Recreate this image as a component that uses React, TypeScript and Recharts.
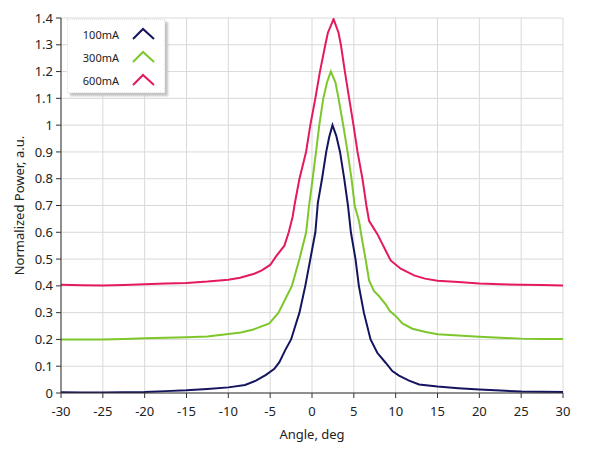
import React from 'react';
import { LineChart, Line, XAxis, YAxis, CartesianGrid } from 'recharts';

const angle100 = [-30, -27.5, -25, -22.5, -20, -17.5, -15, -12.5, -10, -8, -6.7, -5.5, -4.5, -3.9, -3.2, -2.5, -2, -1.5, -0.8, -0.2, 0.4, 0.7, 1.2, 1.7, 2.05, 2.45, 2.9, 3.35, 3.85, 4.3, 4.65, 5.2, 5.6, 6.2, 7.0, 7.8, 8.8, 9.6, 10.4, 11.6, 12.8, 15, 17.5, 20, 22.5, 25, 27.5, 30];
const power100 = [0.003, 0.002, 0.002, 0.003, 0.004, 0.007, 0.01, 0.015, 0.021, 0.03, 0.046, 0.068, 0.09, 0.115, 0.16, 0.2, 0.25, 0.3, 0.4, 0.5, 0.6, 0.71, 0.8, 0.9, 0.955, 1.0, 0.96, 0.9, 0.8, 0.7, 0.6, 0.5, 0.4, 0.3, 0.2, 0.15, 0.113, 0.082, 0.065, 0.046, 0.032, 0.024, 0.018, 0.013, 0.009, 0.006, 0.005, 0.004];

const angle300 = [-30, -27.5, -25, -22.5, -20, -17.5, -15, -12.5, -10, -8.5, -7, -5.1, -4, -3.2, -2.4, -1.5, -0.7, -0.35, 0.08, 0.48, 0.87, 1.35, 1.8, 2.25, 2.8, 3.17, 3.73, 4.25, 4.72, 5.1, 5.63, 6.0, 6.43, 6.82, 7.42, 8.0, 8.8, 9.3, 10, 10.8, 12, 13.6, 15, 17.5, 20, 22.5, 25, 27.5, 30];
const power300 = [0.2, 0.2, 0.2, 0.202, 0.204, 0.206, 0.208, 0.211, 0.22, 0.226, 0.237, 0.26, 0.3, 0.35, 0.4, 0.5, 0.6, 0.7, 0.8, 0.9, 1.0, 1.1, 1.16, 1.2, 1.16, 1.1, 1.0, 0.9, 0.8, 0.7, 0.64, 0.57, 0.495, 0.42, 0.38, 0.362, 0.331, 0.306, 0.288, 0.26, 0.24, 0.228, 0.219, 0.215, 0.21, 0.206, 0.203, 0.202, 0.202];

const angle600 = [-30, -27.5, -25, -22.5, -20, -17.5, -15, -12.5, -10, -8.6, -7, -6, -5, -4.3, -3.3, -2.78, -2.3, -2.1, -1.5, -0.71, -0.2, 0.4, 0.95, 1.59, 1.9, 2.58, 3.17, 3.45, 3.93, 4.44, 4.96, 5.44, 6.03, 6.5, 6.82, 7.8, 8.8, 9.4, 10.6, 12.2, 13.5, 15, 17.5, 20, 22.5, 25, 27.5, 30];
const power600 = [0.404, 0.402, 0.401, 0.403, 0.406, 0.409, 0.411, 0.416, 0.423, 0.43, 0.444, 0.458, 0.478, 0.51, 0.55, 0.6, 0.66, 0.7, 0.8, 0.9, 1.0, 1.1, 1.2, 1.3, 1.345, 1.396, 1.345, 1.3, 1.2, 1.1, 1.0, 0.9, 0.8, 0.7, 0.643, 0.594, 0.532, 0.495, 0.464, 0.439, 0.427, 0.419, 0.414, 0.409, 0.406, 0.404, 0.403, 0.401];

const xTicks = [-30, -25, -20, -15, -10, -5, 0, 5, 10, 15, 20, 25, 30];
const yTicks = [0, 0.1, 0.2, 0.3, 0.4, 0.5, 0.6, 0.7, 0.8, 0.9, 1, 1.1, 1.2, 1.3, 1.4];

const seriesNames = ['100mA', '300mA', '600mA'];
const seriesColors = ['#14145f', '#7dc72b', '#e5195e'];

const toData = (xs: number[], ys: number[]) => xs.map((x, i) => ({ x, v: ys[i] }));
const data100 = toData(angle100, power100);
const data300 = toData(angle300, power300);
const data600 = toData(angle600, power600);
const allData = [data100, data300, data600];

const FONT = '"Noto Sans", sans-serif';
const AXIS = '#333333';

export default function App() {
  return (
    <div style={{ position: 'absolute', left: 0, top: 0, width: 589, height: 456, background: '#fff', fontFamily: FONT }}>
      <LineChart width={589} height={456} margin={{ top: 18, right: 26, bottom: 13, left: 0 }}>
        <CartesianGrid stroke="#d9d9d9" strokeWidth={1} horizontalValues={yTicks} verticalValues={xTicks} />
        <XAxis
          dataKey="x"
          type="number"
          domain={[-30, 30]}
          ticks={xTicks}
          allowDataOverflow
          height={50}
          stroke={AXIS}
          tickSize={5}
          tickMargin={9}
          tick={{ fill: '#222', fontSize: 13, fontFamily: FONT }}
          label={{ value: 'Angle, deg', position: 'insideBottom', offset: 4, fill: '#222', fontSize: 13, fontFamily: FONT }}
        />
        <XAxis xAxisId="top" orientation="top" type="number" domain={[-30, 30]} height={0} tick={false} tickLine={false} stroke={AXIS} />
        <YAxis
          type="number"
          domain={[0, 1.4]}
          ticks={yTicks}
          allowDataOverflow
          width={61}
          stroke={AXIS}
          tickSize={5}
          tickMargin={3}
          tick={{ fill: '#222', fontSize: 13, fontFamily: FONT }}
          label={{ value: 'Normalized Power, a.u.', angle: -90, position: 'insideLeft', offset: 19, fill: '#222', fontSize: 13, fontFamily: FONT, style: { textAnchor: 'middle' } }}
        />
        <YAxis yAxisId="right" orientation="right" type="number" domain={[0, 1.4]} width={0} tick={false} tickLine={false} stroke={AXIS} />
        {allData.map((d, i) => (
          <Line
            key={seriesNames[i]}
            data={d}
            dataKey="v"
            name={seriesNames[i]}
            type="linear"
            stroke={seriesColors[i]}
            strokeWidth={2}
            dot={false}
            isAnimationActive={false}
          />
        ))}
      </LineChart>
      <div
        style={{
          position: 'absolute',
          left: 67,
          top: 19,
          width: 96,
          height: 72,
          background: '#fff',
          border: '1px dotted #e2e2e2',
          boxShadow: '3px 3px 2px #c4c4c4',
        }}
      >
        <svg width={96} height={72}>
          {seriesNames.map((n, i) => (
            <g key={n}>
              <text x={51} y={19 + i * 23} textAnchor="end" fontSize={11} fontFamily={FONT} fill="#222">
                {n}
              </text>
              <polyline
                points={`65,${19 + i * 23} 75,${9 + i * 23} 86,${19 + i * 23}`}
                fill="none"
                stroke={seriesColors[i]}
                strokeWidth={2}
              />
            </g>
          ))}
        </svg>
      </div>
    </div>
  );
}
